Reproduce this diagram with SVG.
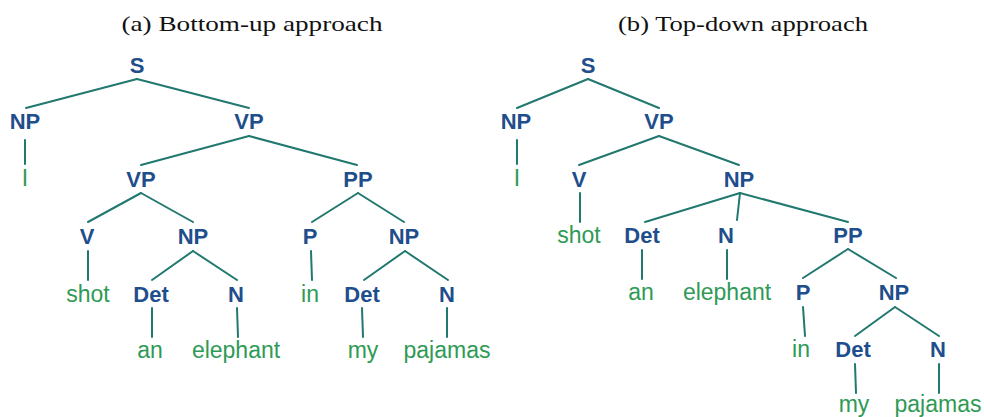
<svg xmlns="http://www.w3.org/2000/svg" width="984" height="417" viewBox="0 0 984 417">
<style>
.t{font-family:"Liberation Serif","DejaVu Serif",serif;font-size:22px;fill:#111;text-anchor:middle}
.n{font-family:"Liberation Sans",Arial,sans-serif;font-size:22px;font-weight:bold;fill:#1f4e8c;text-anchor:middle}
.w{font-family:"Liberation Sans",Arial,sans-serif;font-size:23px;fill:#2e9a55;text-anchor:middle}
.e line{stroke:#21786f;stroke-width:2;stroke-linecap:round}
</style>
<rect width="984" height="417" fill="#fff"/>
<text id="titleA" class="t" x="252" y="31" textLength="261" lengthAdjust="spacingAndGlyphs">(a) Bottom-up approach</text>
<text id="titleB" class="t" x="743" y="31" textLength="250" lengthAdjust="spacingAndGlyphs">(b) Top-down approach</text>
<g id="edges" class="e">
<line x1="137" y1="79" x2="26" y2="108"/>
<line x1="137" y1="79" x2="249" y2="108"/>
<line x1="25" y1="140" x2="25" y2="164"/>
<line x1="249" y1="136" x2="141" y2="165"/>
<line x1="249" y1="136" x2="357" y2="165"/>
<line x1="141" y1="193" x2="88" y2="222"/>
<line x1="141" y1="193" x2="193" y2="222"/>
<line x1="88" y1="251" x2="88" y2="280"/>
<line x1="193" y1="251" x2="152" y2="280"/>
<line x1="193" y1="251" x2="237" y2="280"/>
<line x1="152" y1="308" x2="152" y2="337"/>
<line x1="237" y1="308" x2="238" y2="337"/>
<line x1="358" y1="193" x2="312" y2="222"/>
<line x1="358" y1="193" x2="404" y2="222"/>
<line x1="311" y1="251" x2="312" y2="280"/>
<line x1="405" y1="251" x2="364" y2="280"/>
<line x1="405" y1="251" x2="448" y2="280"/>
<line x1="362" y1="308" x2="363" y2="337"/>
<line x1="447" y1="308" x2="447" y2="337"/>
<line x1="588" y1="79" x2="517" y2="108"/>
<line x1="588" y1="79" x2="659" y2="108"/>
<line x1="517" y1="140" x2="517" y2="164"/>
<line x1="659" y1="136" x2="579" y2="165"/>
<line x1="659" y1="136" x2="739" y2="165"/>
<line x1="580" y1="193" x2="580" y2="222"/>
<line x1="740" y1="193" x2="645" y2="222"/>
<line x1="740" y1="193" x2="737" y2="220"/>
<line x1="740" y1="193" x2="848" y2="222"/>
<line x1="642" y1="250" x2="642" y2="279"/>
<line x1="727" y1="250" x2="727" y2="279"/>
<line x1="848" y1="249" x2="803" y2="278"/>
<line x1="848" y1="249" x2="896" y2="278"/>
<line x1="803" y1="307" x2="805" y2="336"/>
<line x1="895" y1="307" x2="855" y2="336"/>
<line x1="895" y1="307" x2="939" y2="336"/>
<line x1="855" y1="364" x2="856" y2="393"/>
<line x1="939" y1="364" x2="939" y2="393"/>
</g>
<g id="a_S"><text class="n" x="137" y="73">S</text></g>
<g id="a_NP1"><text class="n" x="25" y="129">NP</text></g>
<g id="a_VP1"><text class="n" x="249" y="129">VP</text></g>
<g id="a_I"><text class="w" x="25" y="186">I</text></g>
<g id="a_VP2"><text class="n" x="141" y="187">VP</text></g>
<g id="a_PP"><text class="n" x="358" y="187">PP</text></g>
<g id="a_V"><text class="n" x="87" y="244">V</text></g>
<g id="a_NP2"><text class="n" x="193" y="244">NP</text></g>
<g id="a_P"><text class="n" x="310" y="244">P</text></g>
<g id="a_NP3"><text class="n" x="404" y="244">NP</text></g>
<g id="a_shot"><text class="w" x="88" y="302">shot</text></g>
<g id="a_Det1"><text class="n" x="151" y="302">Det</text></g>
<g id="a_N1"><text class="n" x="236" y="302">N</text></g>
<g id="a_in"><text class="w" x="310" y="302">in</text></g>
<g id="a_Det2"><text class="n" x="362" y="302">Det</text></g>
<g id="a_N2"><text class="n" x="447" y="302">N</text></g>
<g id="a_an"><text class="w" x="150" y="358">an</text></g>
<g id="a_elephant"><text class="w" x="236" y="358">elephant</text></g>
<g id="a_my"><text class="w" x="363" y="358">my</text></g>
<g id="a_pajamas"><text class="w" x="447" y="358">pajamas</text></g>
<g id="b_S"><text class="n" x="588" y="73">S</text></g>
<g id="b_NP1"><text class="n" x="516" y="129">NP</text></g>
<g id="b_VP"><text class="n" x="659" y="129">VP</text></g>
<g id="b_I"><text class="w" x="517" y="186">I</text></g>
<g id="b_V"><text class="n" x="579" y="187">V</text></g>
<g id="b_NP2"><text class="n" x="739" y="187">NP</text></g>
<g id="b_shot"><text class="w" x="579" y="243">shot</text></g>
<g id="b_Det1"><text class="n" x="642" y="243">Det</text></g>
<g id="b_N1"><text class="n" x="726" y="243">N</text></g>
<g id="b_PP"><text class="n" x="848" y="243">PP</text></g>
<g id="b_an"><text class="w" x="641" y="300">an</text></g>
<g id="b_elephant"><text class="w" x="727" y="300">elephant</text></g>
<g id="b_P"><text class="n" x="803" y="300">P</text></g>
<g id="b_NP3"><text class="n" x="894" y="300">NP</text></g>
<g id="b_in"><text class="w" x="801" y="357">in</text></g>
<g id="b_Det2"><text class="n" x="853" y="357">Det</text></g>
<g id="b_N2"><text class="n" x="938" y="357">N</text></g>
<g id="b_my"><text class="w" x="854" y="412">my</text></g>
<g id="b_pajamas"><text class="w" x="938" y="412">pajamas</text></g>
</svg>
